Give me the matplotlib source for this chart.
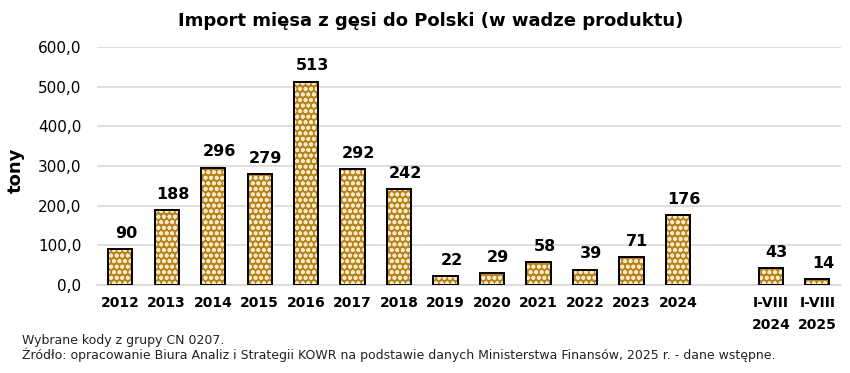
import matplotlib
matplotlib.use("Agg")
import matplotlib.pyplot as plt
import matplotlib.transforms as mtransforms
import numpy as np

categories = ["2012", "2013", "2014", "2015", "2016", "2017", "2018", "2019",
              "2020", "2021", "2022", "2023", "2024", "", "I-VIII\n2024", "I-VIII\n2025"]
values = [90, 188, 296, 279, 513, 292, 242, 22, 29, 58, 39, 71, 176, None, 43, 14]
yticks = [0, 100, 200, 300, 400, 500, 600]

plt.rcParams['font.family'] = ['DejaVu Sans']
plt.rcParams['hatch.linewidth'] = 1.2
fig = plt.figure(figsize=(8.5, 3.73), dpi=100)
ax = fig.add_axes([0.114, 0.236, 0.875, 0.638])

x = np.arange(len(categories))
xs = [xi for xi, v in zip(x, values) if v is not None]
vs = [v for v in values if v is not None]
ax.bar(xs, vs, width=0.52, color="#B8821A", linewidth=0, zorder=3)
ax.bar(xs, vs, width=0.52, facecolor="none", edgecolor="#F5E9C8",
       linewidth=0, hatch="ooo", zorder=4)
ax.bar(xs, vs, width=0.52, facecolor="none", edgecolor="black",
       linewidth=1.4, zorder=5)
lbl_tr = ax.transData + mtransforms.ScaledTranslation(6 / 100, 0, fig.dpi_scale_trans)
for xi, v in zip(xs, vs):
    ax.text(xi, v + 28, f"{v:d}", ha="center", va="baseline", transform=lbl_tr,
            fontsize=11.5, fontweight="bold", color="black")

ax.set_xlim(-0.5, len(categories) - 0.5)
ax.set_ylim(0, 600)
ax.set_yticks(yticks)
ax.set_yticklabels([f"{t:.1f}".replace(".", ",") for t in yticks], fontsize=11)
ax.set_xticks(x)
ax.set_xticklabels(categories, fontsize=10, fontweight="bold", linespacing=1.7)
ax.tick_params(length=0, pad=8)
ax.tick_params(axis="y", pad=11)
ax.yaxis.grid(True, color="#D9D9D9", linewidth=1.2, zorder=0)
for s in ["top", "right", "left"]:
    ax.spines[s].set_visible(False)
ax.spines["bottom"].set_color("#D9D9D9")
ax.spines["bottom"].set_linewidth(1.2)
ax.set_axisbelow(True)

ax.set_ylabel("tony", fontsize=13, fontweight="bold")
ax.yaxis.set_label_coords(-0.097, 0.48)

fig.text(0.507, 0.945, "Import mięsa z gęsi do Polski (w wadze produktu)",
         ha="center", va="center", fontsize=13, fontweight="bold")
fig.text(0.026, 0.086, "Wybrane kody z grupy CN 0207.", fontsize=9, color="#222222",
         va="center")
fig.text(0.026, 0.048, "Źródło: opracowanie Biura Analiz i Strategii KOWR na podstawie danych "
         "Ministerstwa Finansów, 2025 r. - dane wstępne.", fontsize=9, color="#222222",
         va="center")

fig.savefig("out.png", dpi=100)
